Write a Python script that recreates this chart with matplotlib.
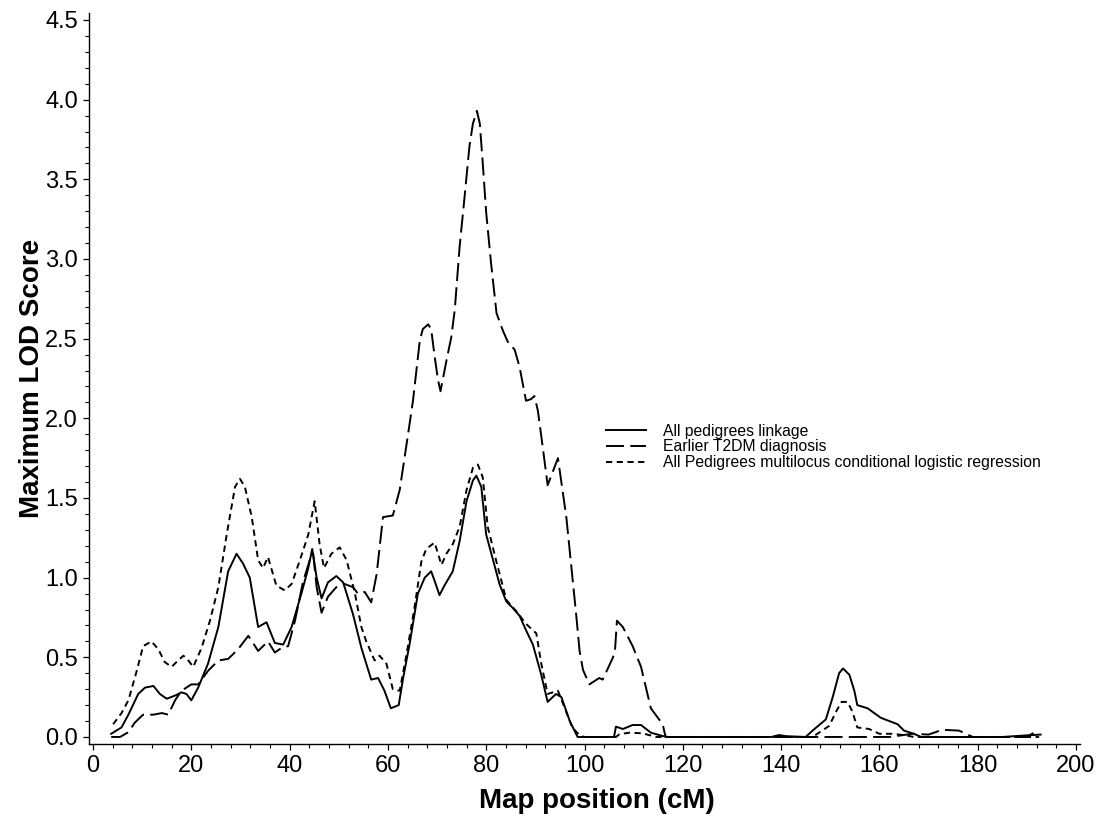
import matplotlib
matplotlib.use('Agg')
import matplotlib.pyplot as plt
from matplotlib.ticker import MultipleLocator

plt.rcParams['font.family'] = ['Liberation Sans', 'DejaVu Sans']
plt.rcParams['lines.scale_dashes'] = False

# All pedigrees linkage (solid)
link_cm = [3.7, 5.8, 7.2, 9.2, 10.6, 12.3, 13.6, 15.0, 16.7, 18.0, 19.0, 20.0, 21.4, 23.4, 25.5,
           27.5, 29.2, 30.5, 31.9, 33.6, 35.3, 37.0, 38.7, 40.4, 42.4, 43.8, 44.6, 45.5, 46.5,
           47.8, 49.5, 50.9, 52.9, 54.6, 56.6, 58.0, 59.3, 60.6, 62.2, 63.1, 64.4, 66.1, 67.5,
           68.8, 69.5, 70.5, 71.5, 73.2, 74.6, 76.0, 77.3, 78.0, 79.0, 80.0, 81.4, 82.7, 84.1,
           85.4, 86.8, 88.1, 89.5, 91.2, 92.5, 94.2, 95.3, 97.0, 98.6, 106.0, 106.4, 107.8,
           109.8, 111.5, 113.5, 115.9, 117.0, 138.0, 139.6, 141.0, 145.0, 146.4, 149.1, 150.5,
           151.8, 152.6, 153.9, 154.9, 155.5, 157.6, 160.3, 163.7, 165.0, 167.0, 168.5, 185.0,
           190.0, 192.8]
link_lod = [0.02, 0.06, 0.14, 0.27, 0.31, 0.32, 0.27, 0.24, 0.26, 0.28, 0.27, 0.23, 0.31, 0.46, 0.69,
            1.04, 1.15, 1.09, 1.00, 0.69, 0.72, 0.59, 0.58, 0.69, 0.90, 1.06, 1.18, 1.00, 0.87,
            0.97, 1.01, 0.97, 0.77, 0.56, 0.36, 0.37, 0.29, 0.18, 0.20, 0.37, 0.58, 0.90, 1.00,
            1.04, 0.98, 0.89, 0.95, 1.04, 1.23, 1.48, 1.61, 1.64, 1.57, 1.27, 1.11, 0.96, 0.85,
            0.81, 0.76, 0.67, 0.58, 0.39, 0.22, 0.27, 0.25, 0.10, 0.0, 0.0, 0.065, 0.05,
            0.075, 0.075, 0.027, 0.006, 0.0, 0.0, 0.012, 0.005, 0.0, 0.04, 0.11, 0.25,
            0.40, 0.43, 0.39, 0.29, 0.20, 0.18, 0.12, 0.08, 0.04, 0.02, 0.0, 0.0,
            0.01, 0.015]

# Earlier T2DM diagnosis (long dash)
early_cm = [3.7, 5.5, 7.2, 8.5, 10.2, 12.3, 14.0, 15.3, 16.7, 18.0, 20.0, 21.4, 23.4, 25.5, 27.5,
            29.5, 31.6, 33.6, 35.6, 37.0, 38.4, 39.7, 41.1, 42.7, 44.1, 44.8, 45.5, 46.5, 47.8,
            49.5, 51.2, 52.9, 53.9, 55.3, 56.6, 57.7, 59.0, 61.0, 62.4, 64.1, 65.1, 66.5, 67.1,
            68.2, 68.8, 69.5, 70.2, 70.7, 71.9, 72.9, 73.6, 74.6, 75.6, 76.6, 77.3, 78.1, 78.7,
            79.3, 80.0, 81.0, 82.1, 83.4, 84.4, 85.8, 86.8, 88.1, 89.1, 89.8, 90.5, 91.5, 92.5,
            94.6, 96.3, 98.3, 99.0, 99.7, 101.0, 103.0, 103.7, 105.8, 106.2, 106.6, 107.8, 109.8,
            111.5, 113.5, 115.9, 116.5, 162.0, 163.3, 166.7, 170.0, 172.8, 176.2, 179.0, 190.0,
            192.1]
early_lod = [0.0, 0.0, 0.03, 0.09, 0.14, 0.14, 0.15, 0.14, 0.23, 0.29, 0.33, 0.33, 0.415, 0.48, 0.49,
             0.55, 0.635, 0.54, 0.60, 0.53, 0.56, 0.57, 0.73, 0.97, 1.11, 1.15, 0.94, 0.78, 0.88,
             0.94, 0.96, 0.94, 0.90, 0.91, 0.845, 1.02, 1.38, 1.39, 1.55, 1.90, 2.11, 2.49, 2.56,
             2.59, 2.56, 2.39, 2.24, 2.17, 2.36, 2.51, 2.68, 3.08, 3.39, 3.71, 3.85, 3.93, 3.85,
             3.60, 3.29, 2.97, 2.66, 2.55, 2.48, 2.43, 2.32, 2.11, 2.12, 2.14, 2.05, 1.82, 1.58,
             1.75, 1.38, 0.77, 0.54, 0.42, 0.33, 0.37, 0.36, 0.50, 0.54, 0.73, 0.69, 0.57,
             0.44, 0.18, 0.08, 0.0, 0.0, 0.005, 0.02, 0.015, 0.045, 0.04, 0.0, 0.0,
             0.04]

# All pedigrees multilocus conditional logistic regression (short dash)
mclr_cm = [4.1, 5.8, 7.2, 8.9, 10.2, 11.9, 13.3, 14.6, 16.0, 17.3, 18.4, 19.4, 20.4, 22.1, 23.8,
           25.5, 27.2, 28.9, 29.9, 30.9, 32.3, 33.6, 34.6, 35.6, 37.3, 39.0, 40.4, 42.1, 43.8,
           45.1, 46.1, 47.0, 48.5, 50.2, 51.6, 53.3, 54.6, 55.6, 57.3, 58.3, 59.7, 61.0, 62.4,
           63.8, 65.4, 66.8, 67.8, 69.5, 70.9, 71.9, 73.2, 74.6, 76.0, 77.3, 78.3, 79.3, 80.3,
           82.0, 84.1, 86.1, 88.1, 90.2, 91.2, 92.5, 94.6, 96.0, 97.5, 99.0, 100.0, 106.4, 107.1,
           109.1, 111.8, 114.6, 146.4, 149.8, 151.2, 152.3, 153.5, 154.5, 155.5, 157.9, 160.0,
           162.6, 165.4, 167.0, 192.5]
mclr_lod = [0.08, 0.15, 0.23, 0.415, 0.57, 0.60, 0.55, 0.47, 0.44, 0.48, 0.51, 0.48, 0.44, 0.56, 0.73,
            0.94, 1.27, 1.57, 1.62, 1.57, 1.38, 1.11, 1.06, 1.13, 0.95, 0.92, 0.96, 1.11, 1.27,
            1.48, 1.21, 1.06, 1.15, 1.19, 1.11, 0.90, 0.69, 0.60, 0.48, 0.51, 0.46, 0.30, 0.29,
            0.52, 0.81, 1.10, 1.18, 1.22, 1.08, 1.15, 1.21, 1.32, 1.55, 1.69, 1.71, 1.63, 1.32,
            1.11, 0.86, 0.79, 0.71, 0.65, 0.46, 0.27, 0.29, 0.18, 0.06, 0.01, 0.0, 0.0, 0.017,
            0.027, 0.023, 0.0, 0.0, 0.07, 0.16, 0.22, 0.22, 0.16, 0.06, 0.05, 0.02,
            0.02, 0.01, 0.0, 0.0]

fig = plt.figure(figsize=(10.99, 8.26), dpi=100)
ax = fig.add_axes([0.081, 0.0993, 0.9017, 0.8846])

ax.plot(link_cm, link_lod, color='black', lw=1.4, label='All pedigrees linkage')
ax.plot(early_cm, early_lod, color='black', lw=1.4, dashes=(13, 4.5), label='Earlier T2DM diagnosis')
ax.plot(mclr_cm, mclr_lod, color='black', lw=1.4, dashes=(4.5, 3.2),
        label='All Pedigrees multilocus conditional logistic regression')

ax.set_xlim(-0.81, 200.81)
ax.set_ylim(-0.044, 4.542)
ax.xaxis.set_major_locator(MultipleLocator(20))
ax.xaxis.set_minor_locator(MultipleLocator(4))
ax.yaxis.set_major_locator(MultipleLocator(0.5))
ax.yaxis.set_minor_locator(MultipleLocator(0.1))
ax.yaxis.set_major_formatter(matplotlib.ticker.FormatStrFormatter('%.1f'))
for s in ['top', 'right']:
    ax.spines[s].set_visible(False)
for s in ['left', 'bottom']:
    ax.spines[s].set_linewidth(1.0)
ax.tick_params(which='major', direction='out', length=4.5, width=0.9, labelsize=17, pad=3.5)
ax.tick_params(which='minor', direction='out', length=2.8, width=0.8)

ax.set_xlabel('Map position (cM)', fontsize=20, fontweight='bold')
ax.set_ylabel('Maximum LOD Score', fontsize=20, fontweight='bold')
ax.xaxis.set_label_coords(0.5126, -0.06)
ax.yaxis.set_label_coords(-0.044, 0.5)

ax.legend(loc='center left', bbox_to_anchor=(606 / 1099, 1 - 447 / 826),
          bbox_transform=fig.transFigure, frameon=False, fontsize=11.3,
          handlelength=2.55, handletextpad=1.08, labelspacing=0.05,
          borderpad=0, borderaxespad=0)

fig.savefig('out.png', dpi=100)
